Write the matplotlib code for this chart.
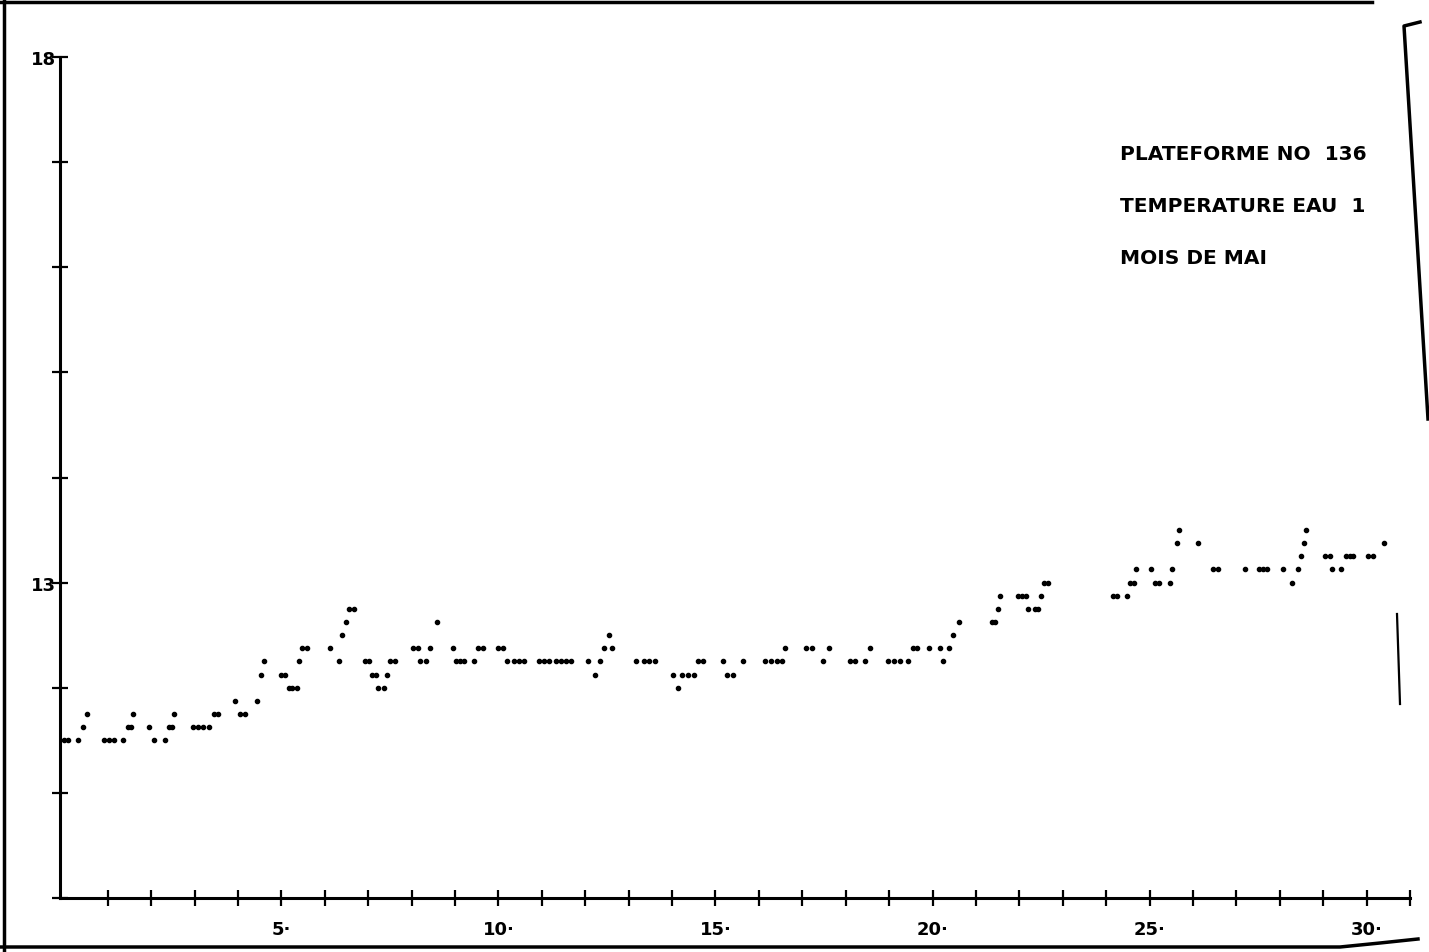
import matplotlib
matplotlib.use("Agg")
import matplotlib.pyplot as plt
from matplotlib.lines import Line2D

# day of month (fraction of day) and water temperature (deg C)
days = [0.00, 0.09, 0.32, 0.43, 0.52, 0.91, 1.03, 1.14, 1.35, 1.47, 1.54, 1.58,
        1.95, 2.07, 2.32, 2.41, 2.48, 2.53, 2.96, 3.08, 3.20, 3.33, 3.45, 3.54,
        3.93, 4.05, 4.16, 4.44, 4.53, 4.60, 4.99, 5.08, 5.18, 5.25, 5.36, 5.41,
        5.48, 5.59, 6.12, 6.33, 6.40, 6.49, 6.56, 6.67, 6.93, 7.02, 7.09, 7.18,
        7.23, 7.36, 7.43, 7.50, 7.62, 8.03, 8.15, 8.19, 8.33, 8.43, 8.59, 8.95,
        9.02, 9.12, 9.21, 9.44, 9.53, 9.65, 9.99, 10.11, 10.20, 10.36, 10.48, 10.59,
        10.94, 11.05, 11.17, 11.33, 11.44, 11.56, 11.67, 12.06, 12.22, 12.34, 12.43, 12.55,
        12.62, 13.17, 13.35, 13.47, 13.61, 14.02, 14.14, 14.23, 14.37, 14.51, 14.60, 14.71,
        15.17, 15.27, 15.40, 15.63, 16.14, 16.28, 16.42, 16.53, 16.60, 17.08, 17.22, 17.48,
        17.62, 18.10, 18.21, 18.45, 18.56, 18.97, 19.11, 19.25, 19.44, 19.55, 19.64, 19.92,
        20.17, 20.24, 20.38, 20.47, 20.61, 21.37, 21.44, 21.51, 21.56, 21.97, 22.06, 22.15,
        22.20, 22.36, 22.43, 22.50, 22.57, 22.66, 24.16, 24.25, 24.48, 24.55, 24.64, 24.69,
        25.03, 25.13, 25.22, 25.47, 25.52, 25.63, 25.68, 26.12, 26.46, 26.58, 27.20, 27.52,
        27.61, 27.70, 28.07, 28.28, 28.42, 28.49, 28.56, 28.60, 29.04, 29.16, 29.20, 29.41,
        29.53, 29.62, 29.69, 30.03, 30.15, 30.40]
temps = [11.5, 11.5, 11.5, 11.625, 11.75, 11.5, 11.5, 11.5, 11.5, 11.625, 11.625, 11.75,
         11.625, 11.5, 11.5, 11.625, 11.625, 11.75, 11.625, 11.625, 11.625, 11.625, 11.75, 11.75,
         11.875, 11.75, 11.75, 11.875, 12.125, 12.25, 12.125, 12.125, 12.0, 12.0, 12.0, 12.25,
         12.375, 12.375, 12.375, 12.25, 12.5, 12.625, 12.75, 12.75, 12.25, 12.25, 12.125, 12.125,
         12.0, 12.0, 12.125, 12.25, 12.25, 12.375, 12.375, 12.25, 12.25, 12.375, 12.625, 12.375,
         12.25, 12.25, 12.25, 12.25, 12.375, 12.375, 12.375, 12.375, 12.25, 12.25, 12.25, 12.25,
         12.25, 12.25, 12.25, 12.25, 12.25, 12.25, 12.25, 12.25, 12.125, 12.25, 12.375, 12.5,
         12.375, 12.25, 12.25, 12.25, 12.25, 12.125, 12.0, 12.125, 12.125, 12.125, 12.25, 12.25,
         12.25, 12.125, 12.125, 12.25, 12.25, 12.25, 12.25, 12.25, 12.375, 12.375, 12.375, 12.25,
         12.375, 12.25, 12.25, 12.25, 12.375, 12.25, 12.25, 12.25, 12.25, 12.375, 12.375, 12.375,
         12.375, 12.25, 12.375, 12.5, 12.625, 12.625, 12.625, 12.75, 12.875, 12.875, 12.875, 12.875,
         12.75, 12.75, 12.75, 12.875, 13.0, 13.0, 12.875, 12.875, 12.875, 13.0, 13.0, 13.125,
         13.125, 13.0, 13.0, 13.0, 13.125, 13.375, 13.5, 13.375, 13.125, 13.125, 13.125, 13.125,
         13.125, 13.125, 13.125, 13.0, 13.125, 13.25, 13.375, 13.5, 13.25, 13.25, 13.125, 13.125,
         13.25, 13.25, 13.25, 13.25, 13.25, 13.375]

x_ticks = list(range(1, 32))
x_labels = {5: "5·", 10: "10·", 15: "15·", 20: "20·", 25: "25·", 30: "30·"}
y_ticks = list(range(10, 19))
y_labels = {13: "13", 18: "18"}
# the sheet edge cuts the end of the first two lines
info_lines = ["PLATEFORME NO  136", "TEMPERATURE EAU  1", "MOIS DE MAI"]

W, H = 1429, 953
fig = plt.figure(figsize=(W / 100, H / 100), dpi=100)
ax = fig.add_axes([60 / W, 1 - 899 / H, (1410 - 60) / W, (899 - 58) / H])

ax.plot(days, temps, linestyle="none", marker="o", markersize=3.0, color="black")

ax.set_xlim(-0.1, 31)
ax.set_ylim(10, 18)
for side in ("top", "right"):
    ax.spines[side].set_visible(False)
for side in ("left", "bottom"):
    ax.spines[side].set_linewidth(2.2)

ax.set_xticks(x_ticks)
ax.set_xticklabels([x_labels.get(t, "") for t in x_ticks])
ax.set_yticks(y_ticks)
ax.set_yticklabels([y_labels.get(t, "") for t in y_ticks])
ax.tick_params(axis="both", direction="inout", length=12, width=1.6, color="black")
ax.tick_params(axis="x", pad=10, labelsize=13)
ax.tick_params(axis="y", pad=-3, labelsize=13)
for lab in ax.get_xticklabels() + ax.get_yticklabels():
    lab.set_fontweight("bold")

# title block at upper right
for i, line in enumerate(info_lines):
    fig.text(1120 / W, 1 - (155 + 52 * i) / H, line, fontsize=14.5, fontweight="bold",
             va="center", ha="left")

# edges of the scanned sheet
def px_line(xs, ys, lw=2.5):
    fig.add_artist(Line2D([x / W for x in xs], [1 - y / H for y in ys],
                          transform=fig.transFigure, color="black", linewidth=lw))

px_line([0, 1372], [3, 3])
px_line([4, 4], [0, 953])
px_line([0, 1340, 1380, 1418], [948, 948, 944, 940])
px_line([1420, 1404, 1428], [23, 27, 420])
px_line([1397, 1400], [615, 705], lw=1.6)

fig.savefig("out.png", dpi=100)
